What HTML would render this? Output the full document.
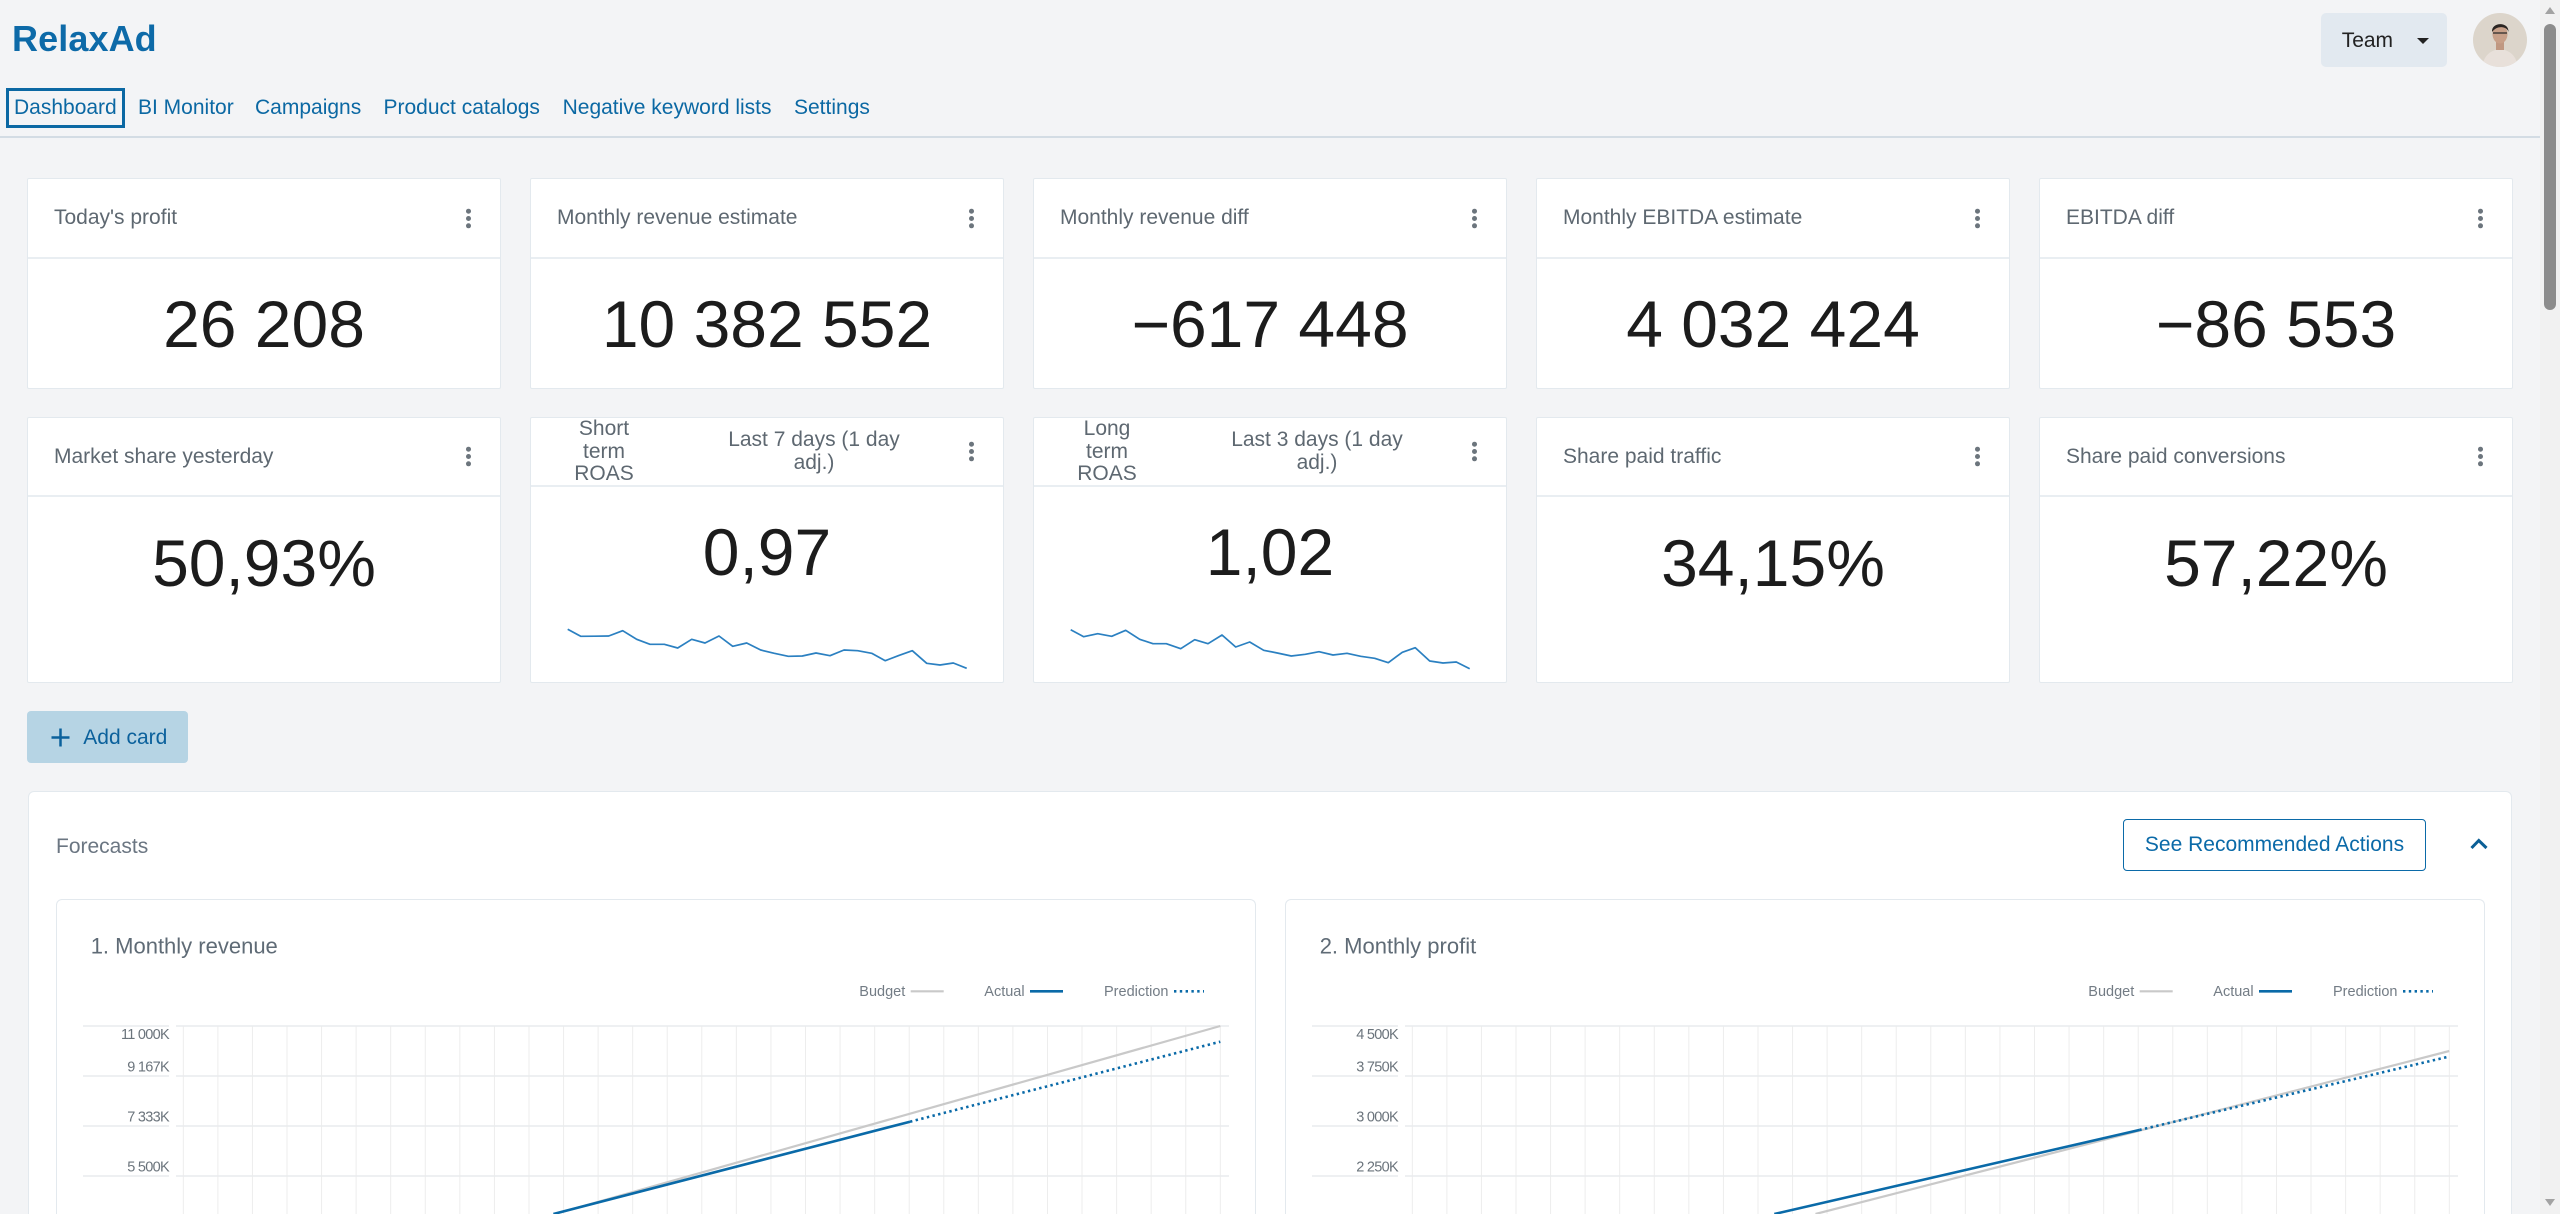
<!DOCTYPE html>
<html><head><meta charset="utf-8">
<style>
*{margin:0;padding:0;box-sizing:border-box}
html,body{width:2560px;height:1214px;overflow:hidden;background:#f3f4f6;font-family:"Liberation Sans",Arial,sans-serif}
#root{position:relative;width:2560px;height:1214px;overflow:hidden;background:#f3f4f6}
.abs{position:absolute}
.logo{position:absolute;left:12px;top:21px;font-size:36px;line-height:36px;font-weight:bold;color:#0d6aa8;letter-spacing:0.1px}
.nav{position:absolute;top:96px;font-size:21px;line-height:24px;color:#0b68a3;white-space:nowrap}
.navbox{position:absolute;left:6px;top:88px;width:119px;height:40px;border:3px solid #0b68a3}
.hline{position:absolute;left:0;top:136px;width:2540px;height:2px;background:#d3dce4}
.team{position:absolute;left:2321px;top:13px;width:126px;height:54px;background:#e2e9f0;border-radius:5px}
.team span{position:absolute;left:20.7px;top:16px;font-size:21px;line-height:24px;color:#222}
.caret{position:absolute;left:96px;top:25px;width:0;height:0;border-left:6.5px solid transparent;border-right:6.5px solid transparent;border-top:6px solid #222}
.card{position:absolute;width:474px;background:#fff;border:1px solid #e3e9ee;border-radius:2px}
.hd{position:absolute;left:0;top:0;right:0;border-bottom:2px solid #e9eef2;display:flex;align-items:center;padding-left:26px}
.t{font-size:21px;color:#5e6871;white-space:nowrap}
.kb{position:absolute;right:29px;top:50%;margin-top:-2.5px;width:5px;height:5px;border-radius:50%;background:#6c757d;box-shadow:0 -7.3px 0 #6c757d,0 7.3px 0 #6c757d}
.v{position:absolute;left:0;right:0;text-align:center;font-size:66px;line-height:66px;color:#1c1c1c;white-space:nowrap}
.c1{position:absolute;left:27px;top:0;width:92px;text-align:center;font-size:21px;line-height:22.5px;color:#5e6871}
.c2{position:absolute;left:178px;top:11px;width:210px;text-align:center;font-size:21px;line-height:22.5px;color:#5e6871}
.spark{position:absolute;left:-1px;top:-1px;overflow:hidden}
.addbtn{position:absolute;left:27px;top:711px;width:161px;height:52px;background:#b6d4e4;border-radius:4px}
.addbtn span{position:absolute;left:56.3px;top:14.5px;font-size:21px;line-height:24px;color:#0b619c}
.panel{position:absolute;left:28px;top:791px;width:2484px;height:423px;background:#fff;border:1px solid #e3e9ee;border-bottom:0;border-radius:6px 6px 0 0}
.ftitle{position:absolute;left:27px;top:43px;font-size:21px;line-height:24px;color:#6b7682}
.rec{position:absolute;left:2094px;top:27px;width:303px;height:52px;border:1.5px solid #0b6aa8;border-radius:4px;color:#0b6aa8;font-size:21px;line-height:49px;text-align:center}
.ccard{position:absolute;top:899px;width:1200px;height:315px;background:#fff;border:1px solid #e3e9ee;border-bottom:0;border-radius:6px 6px 0 0;overflow:hidden}
.ccard svg{position:absolute;left:-1px;top:-1px;overflow:hidden}
.sb{position:absolute;left:2540px;top:0;width:20px;height:1214px;background:#f1f1f1}
</style></head><body>
<div id="root">

<div class="logo">RelaxAd</div>
<div class="navbox"></div>
<div class="nav" style="left:14px">Dashboard</div>
<div class="nav" style="left:138px">BI Monitor</div>
<div class="nav" style="left:255px">Campaigns</div>
<div class="nav" style="left:383.5px">Product catalogs</div>
<div class="nav" style="left:562.6px">Negative keyword lists</div>
<div class="nav" style="left:794px">Settings</div>
<div class="hline"></div>

<div class="team"><span>Team</span><div class="caret"></div></div>
<svg class="abs" style="left:2473px;top:13px" width="54" height="54" viewBox="0 0 54 54">
<defs><clipPath id="av"><circle cx="27" cy="27" r="27"/></clipPath></defs>
<g clip-path="url(#av)">
<rect width="54" height="54" fill="#dcd5cb"/>
<path d="M9 54 C11 41 19 37 27 36 C35 37 43 41 45 54Z" fill="#e8e0da"/>
<rect x="23" y="28" width="8" height="9" fill="#c09882"/>
<ellipse cx="27" cy="21" rx="7.5" ry="9.5" fill="#c8a089"/>
<path d="M19 19 C18 9 36 8 35.5 19 C34 13 24 12 19 19Z" fill="#2b2522"/>
<path d="M20 20 h6 M28 20 h6 M26 20 h2" stroke="#2a2a2a" stroke-width="1.3" fill="none"/>
</g></svg>

<!-- Row 1 -->
<div class="card" style="left:27px;top:178px;height:211px">
 <div class="hd" style="height:80px"><span class="t">Today's profit</span><i class="kb"></i></div>
 <div class="v" style="top:112px">26 208</div>
</div>
<div class="card" style="left:530px;top:178px;height:211px">
 <div class="hd" style="height:80px"><span class="t">Monthly revenue estimate</span><i class="kb"></i></div>
 <div class="v" style="top:112px">10 382 552</div>
</div>
<div class="card" style="left:1033px;top:178px;height:211px">
 <div class="hd" style="height:80px"><span class="t">Monthly revenue diff</span><i class="kb"></i></div>
 <div class="v" style="top:112px">−617 448</div>
</div>
<div class="card" style="left:1536px;top:178px;height:211px">
 <div class="hd" style="height:80px"><span class="t">Monthly EBITDA estimate</span><i class="kb"></i></div>
 <div class="v" style="top:112px">4 032 424</div>
</div>
<div class="card" style="left:2039px;top:178px;height:211px">
 <div class="hd" style="height:80px"><span class="t">EBITDA diff</span><i class="kb"></i></div>
 <div class="v" style="top:112px">−86 553</div>
</div>

<!-- Row 2 -->
<div class="card" style="left:27px;top:417px;height:266px">
 <div class="hd" style="height:79px"><span class="t">Market share yesterday</span><i class="kb"></i></div>
 <div class="v" style="top:111.5px">50,93%</div>
</div>
<div class="card" style="left:530px;top:417px;height:266px">
 <div class="hd" style="height:69px"><div class="c1">Short term ROAS</div><div class="c2">Last 7 days (1 day adj.)</div><i class="kb"></i></div>
 <div class="v" style="top:100.5px">0,97</div>
 <svg class="spark" width="474" height="266"><polyline fill="none" stroke="#2b80c1" stroke-width="1.7" stroke-linejoin="round" points="37.7,212.3 50.7,219.3 64.7,219.2 78.7,219 92.7,213.7 106.7,222.3 120,227.3 134.3,227.3 147.7,231 161.7,222.3 175,226 189,219 202.7,229.3 216.7,226 230.7,233 244.3,236.3 258.3,239.3 272.3,239 286,236 300,238.7 314,233 327.7,233.7 341.7,236.3 355.3,243.7 369.3,238.3 382.3,233.7 396.7,246.3 410,248 423.3,246 436.7,251.3"/></svg>
</div>
<div class="card" style="left:1033px;top:417px;height:266px">
 <div class="hd" style="height:69px"><div class="c1">Long term ROAS</div><div class="c2">Last 3 days (1 day adj.)</div><i class="kb"></i></div>
 <div class="v" style="top:100.5px">1,02</div>
 <svg class="spark" width="474" height="266"><polyline fill="none" stroke="#2b80c1" stroke-width="1.7" stroke-linejoin="round" points="37.7,212.7 50.7,219.7 64.7,216.7 78.7,219.3 92.7,213.3 106.7,222.3 120,226.7 133.3,226.7 147.7,231.7 161.7,222.7 175,226.7 189,218 202.7,230 216.7,225 230.7,233.3 244.3,236 258.3,239 272.3,237.3 286,234.7 300,238 314,236.3 327.7,239.3 341.7,241.3 355.3,245.7 369.3,235.3 382.3,230.7 396.7,244 410,246 423.3,245 436.7,251.7"/></svg>
</div>
<div class="card" style="left:1536px;top:417px;height:266px">
 <div class="hd" style="height:79px"><span class="t">Share paid traffic</span><i class="kb"></i></div>
 <div class="v" style="top:111.5px">34,15%</div>
</div>
<div class="card" style="left:2039px;top:417px;height:266px">
 <div class="hd" style="height:79px"><span class="t">Share paid conversions</span><i class="kb"></i></div>
 <div class="v" style="top:111.5px">57,22%</div>
</div>

<!-- Add card -->
<div class="addbtn">
 <svg class="abs" style="left:23.7px;top:17px" width="19" height="19"><path d="M9.5 0.5V18.5M0.5 9.5H18.5" stroke="#0b619c" stroke-width="2.5"/></svg>
 <span>Add card</span>
</div>

<!-- Forecasts panel -->
<div class="panel">
 <div class="ftitle">Forecasts</div>
 <div class="rec">See Recommended Actions</div>
 <svg class="abs" style="left:2440px;top:46px" width="20" height="12"><polyline points="2.5,10 9.8,2.5 17.5,10" fill="none" stroke="#0b5f96" stroke-width="3"/></svg>
</div>

<!-- Chart 1 -->
<div class="ccard" style="left:56px">
<svg width="1200" height="315" font-family="Liberation Sans, Arial, sans-serif">
 <text x="34.7" y="54.3" font-size="22" fill="#5f6b76">1. Monthly revenue</text>
 <g font-size="14.5" fill="#737c85">
  <text x="803.3" y="97">Budget</text>
  <text x="928.3" y="97">Actual</text>
  <text x="1048" y="97">Prediction</text>
 </g>
 <line x1="854.7" y1="92.3" x2="887.7" y2="92.3" stroke="#c9c9c9" stroke-width="2.2"/>
 <line x1="974" y1="92.3" x2="1007" y2="92.3" stroke="#0a6aa8" stroke-width="2.6"/>
 <line x1="1118" y1="92.3" x2="1148" y2="92.3" stroke="#0a6aa8" stroke-width="2.6" stroke-dasharray="2.4 3.4"/>
 <g stroke="#ededed" stroke-width="1">
  <path d="M127.3 127V315M161.87 127V315M196.43 127V315M231 127V315M265.57 127V315M300.14 127V315M334.7 127V315M369.27 127V315M403.84 127V315M438.4 127V315M472.97 127V315M507.54 127V315M542.1 127V315M576.67 127V315M611.24 127V315M645.81 127V315M680.37 127V315M714.94 127V315M749.51 127V315M784.07 127V315M818.64 127V315M853.21 127V315M887.77 127V315M922.34 127V315M956.91 127V315M991.48 127V315M1026.04 127V315M1060.61 127V315M1095.18 127V315M1129.74 127V315M1164.31 127V315"/>
 </g>
 <g stroke="#e9ebed" stroke-width="1.6">
  <path d="M27 127H113M120 127H1173M27 177H113M120 177H1173M27 227H113M120 227H1173M27 277H113M120 277H1173"/>
 </g>
 <g font-size="14.5" fill="#6b747c" text-anchor="end" letter-spacing="-0.7">
  <text x="113" y="140">11 000K</text>
  <text x="113" y="172.7">9 167K</text>
  <text x="113" y="222.7">7 333K</text>
  <text x="113" y="272.7">5 500K</text>
 </g>
 <line x1="498.9" y1="315" x2="1164.3" y2="127" stroke="#c9c9c9" stroke-width="2.2"/>
 <line x1="497.4" y1="315" x2="854" y2="222.7" stroke="#0a6aa8" stroke-width="2.6"/>
 <line x1="854" y1="222.7" x2="1164.3" y2="142.7" stroke="#0a6aa8" stroke-width="2.6" stroke-dasharray="2.4 3.4"/>
</svg>
</div>

<!-- Chart 2 -->
<div class="ccard" style="left:1285px">
<svg width="1200" height="315" font-family="Liberation Sans, Arial, sans-serif">
 <text x="34.7" y="54.3" font-size="22" fill="#5f6b76">2. Monthly profit</text>
 <g font-size="14.5" fill="#737c85">
  <text x="803.3" y="97">Budget</text>
  <text x="928.3" y="97">Actual</text>
  <text x="1048" y="97">Prediction</text>
 </g>
 <line x1="854.7" y1="92.3" x2="887.7" y2="92.3" stroke="#c9c9c9" stroke-width="2.2"/>
 <line x1="974" y1="92.3" x2="1007" y2="92.3" stroke="#0a6aa8" stroke-width="2.6"/>
 <line x1="1118" y1="92.3" x2="1148" y2="92.3" stroke="#0a6aa8" stroke-width="2.6" stroke-dasharray="2.4 3.4"/>
 <g stroke="#ededed" stroke-width="1">
  <path d="M127.3 127V315M161.87 127V315M196.43 127V315M231 127V315M265.57 127V315M300.14 127V315M334.7 127V315M369.27 127V315M403.84 127V315M438.4 127V315M472.97 127V315M507.54 127V315M542.1 127V315M576.67 127V315M611.24 127V315M645.81 127V315M680.37 127V315M714.94 127V315M749.51 127V315M784.07 127V315M818.64 127V315M853.21 127V315M887.77 127V315M922.34 127V315M956.91 127V315M991.48 127V315M1026.04 127V315M1060.61 127V315M1095.18 127V315M1129.74 127V315M1164.31 127V315"/>
 </g>
 <g stroke="#e9ebed" stroke-width="1.6">
  <path d="M27 127H113M120 127H1173M27 177H113M120 177H1173M27 227H113M120 227H1173M27 277H113M120 277H1173"/>
 </g>
 <g font-size="14.5" fill="#6b747c" text-anchor="end" letter-spacing="-0.7">
  <text x="113" y="140">4 500K</text>
  <text x="113" y="172.7">3 750K</text>
  <text x="113" y="222.7">3 000K</text>
  <text x="113" y="272.7">2 250K</text>
 </g>
 <line x1="530.5" y1="315" x2="1164.3" y2="152" stroke="#c9c9c9" stroke-width="2.2"/>
 <line x1="489.3" y1="315" x2="854.3" y2="231" stroke="#0a6aa8" stroke-width="2.6"/>
 <line x1="854.3" y1="231" x2="1164.3" y2="157.5" stroke="#0a6aa8" stroke-width="2.6" stroke-dasharray="2.4 3.4"/>
</svg>
</div>

<!-- Scrollbar -->
<div class="sb">
 <div class="abs" style="left:4.5px;top:7px;width:0;height:0;border-left:5.5px solid transparent;border-right:5.5px solid transparent;border-bottom:7px solid #a3a3a3"></div>
 <div class="abs" style="left:4px;top:24px;width:12px;height:286px;border-radius:6px;background:#8c8c8c"></div>
 <div class="abs" style="left:4.5px;top:1199px;width:0;height:0;border-left:5.5px solid transparent;border-right:5.5px solid transparent;border-top:7px solid #a3a3a3"></div>
</div>

</div>
</body></html>
